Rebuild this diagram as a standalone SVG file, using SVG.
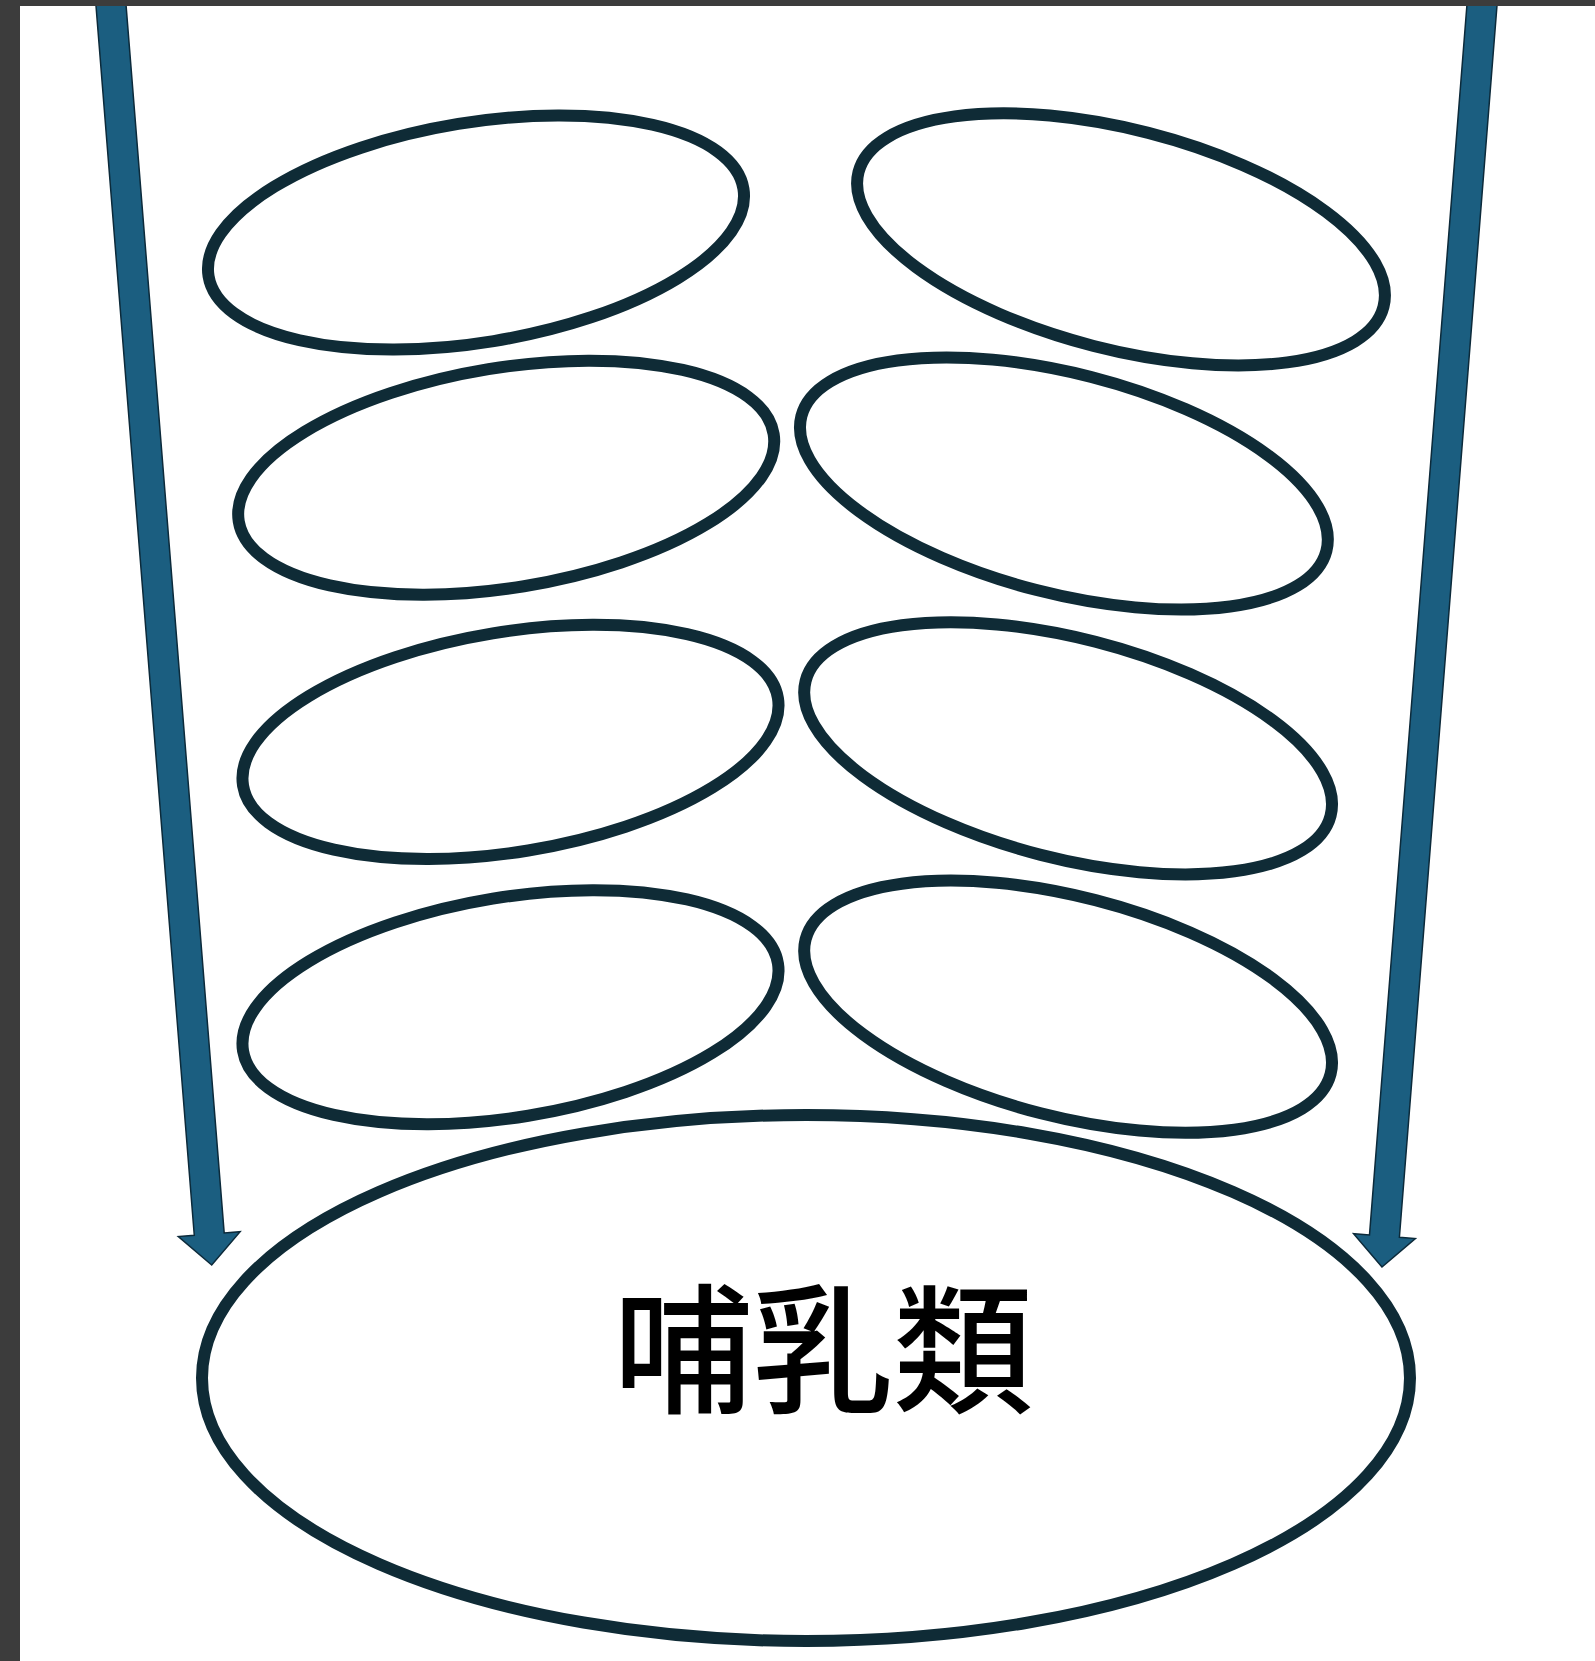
<svg xmlns="http://www.w3.org/2000/svg" width="1595" height="1661" viewBox="0 0 1595 1661">
<style>
.node ellipse{fill:none;stroke:#0f2b36;stroke-width:12}
.arrow{fill:#1b5e80;stroke:#0c2a3a;stroke-width:1.5;stroke-linejoin:miter}
.label{font-family:"Noto Sans CJK JP","Noto Sans CJK SC",sans-serif;font-weight:500;font-size:140px;fill:#000}
</style>
<rect x="0" y="0" width="1595" height="1661" fill="#ffffff"/>
<g id="connectors">
<polygon class="arrow" transform="translate(211.7,1265) rotate(-4.57)" points="0,0 -31,-31 -15,-31 -15,-1290 15,-1290 15,-31 31,-31"/>
<polygon class="arrow" transform="translate(1382,1267) rotate(4.53)" points="0,0 -31,-31 -15,-31 -15,-1290 15,-1290 15,-31 31,-31"/>
</g>
<g id="n1" class="node"><ellipse cx="476" cy="232.5" rx="271" ry="110" transform="rotate(-9.3 476 232.5)"/></g>
<g id="n2" class="node"><ellipse cx="1121" cy="239.4" rx="271" ry="110" transform="rotate(14.4 1121 239.4)"/></g>
<g id="n3" class="node"><ellipse cx="506.2" cy="477.7" rx="271" ry="110" transform="rotate(-9.3 506.2 477.7)"/></g>
<g id="n4" class="node"><ellipse cx="1063.9" cy="483.5" rx="271" ry="110" transform="rotate(14.4 1063.9 483.5)"/></g>
<g id="n5" class="node"><ellipse cx="510.5" cy="741.9" rx="271" ry="110" transform="rotate(-9.3 510.5 741.9)"/></g>
<g id="n6" class="node"><ellipse cx="1068.1" cy="748.3" rx="271" ry="110" transform="rotate(14.4 1068.1 748.3)"/></g>
<g id="n7" class="node"><ellipse cx="510.5" cy="1007.2" rx="271" ry="110" transform="rotate(-9.3 510.5 1007.2)"/></g>
<g id="n8" class="node"><ellipse cx="1068.1" cy="1006.7" rx="271" ry="110" transform="rotate(14.4 1068.1 1006.7)"/></g>
<g id="n9" class="node"><ellipse cx="806" cy="1378" rx="604" ry="263"/><text class="label" x="823" y="1402" text-anchor="middle">哺乳類</text></g>
<rect x="0" y="0" width="20" height="1661" fill="#3c3c3c"/>
<rect x="0" y="0" width="1595" height="6" fill="#3c3c3c"/>
</svg>
